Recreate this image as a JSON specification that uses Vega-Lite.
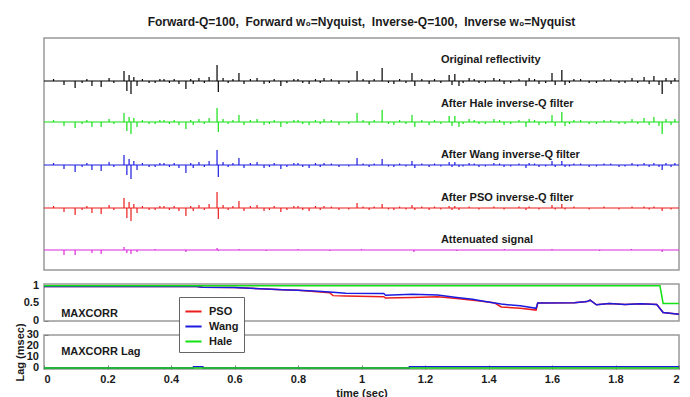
{
"$schema": "https://vega.github.io/schema/vega-lite/v6.json",
"background": "white",
"padding": {"left": 13, "top": 15, "right": 10, "bottom": 4},
"title": {"text": "Forward-Q=100,\u00a0 Forward w₀=Nyquist,\u00a0 Inverse-Q=100,\u00a0 Inverse w₀=Nyquist", "font": "Liberation Sans", "fontSize": 12, "fontWeight": "bold", "color": "#1a1a1a", "anchor": "middle", "frame": "group", "offset": 8.5},
"config": {
 "view": {"stroke": "#999999", "strokeWidth": 1.5},
 "axis": {"labelFont": "Liberation Sans", "labelFontWeight": "bold", "labelFontSize": 11, "labelColor": "#1a1a1a", "titleFont": "Liberation Sans", "titleFontWeight": "bold", "titleFontSize": 11, "titleColor": "#1a1a1a", "grid": false, "domain": false, "tickColor": "#808080", "tickSize": -4, "labelPadding": 5},
 "text": {"font": "Liberation Sans", "fontWeight": "bold", "fontSize": 11, "color": "#1a1a1a"},
 "legend": {"orient": "none", "legendX": 135, "legendY": 259, "direction": "vertical", "title": null, "symbolType": "stroke", "symbolStrokeWidth": 2, "symbolSize": 260, "labelFont": "Liberation Sans", "labelFontWeight": "bold", "labelFontSize": 11, "labelColor": "#1a1a1a", "fillColor": "white", "strokeColor": "#666666", "padding": 5, "rowPadding": -6, "labelOffset": 6, "labelExpr": "datum.label + '\u00a0\u00a0\u00a0\u00a0'"}
},
"datasets": {
"tr": [
{"s":"k","t":0.030,"a":2},{"s":"k","t":0.063,"a":-4},{"s":"k","t":0.098,"a":-7},{"s":"k","t":0.120,"a":-2},{"s":"k","t":0.135,"a":2},{"s":"k","t":0.151,"a":-5},{"s":"k","t":0.180,"a":-6},{"s":"k","t":0.205,"a":3},{"s":"k","t":0.220,"a":-2},{"s":"k","t":0.252,"a":10},{"s":"k","t":0.261,"a":-10},{"s":"k","t":0.268,"a":6},{"s":"k","t":0.274,"a":-13},{"s":"k","t":0.283,"a":4},{"s":"k","t":0.293,"a":-5},{"s":"k","t":0.310,"a":2},{"s":"k","t":0.331,"a":-2},{"s":"k","t":0.350,"a":-2},{"s":"k","t":0.365,"a":2},{"s":"k","t":0.378,"a":2},{"s":"k","t":0.395,"a":-2},{"s":"k","t":0.410,"a":2},{"s":"k","t":0.425,"a":-3},{"s":"k","t":0.447,"a":-8},{"s":"k","t":0.462,"a":2},{"s":"k","t":0.470,"a":-3},{"s":"k","t":0.488,"a":3},{"s":"k","t":0.505,"a":-2},{"s":"k","t":0.520,"a":4},{"s":"k","t":0.545,"a":16},{"s":"k","t":0.549,"a":-11},{"s":"k","t":0.564,"a":3},{"s":"k","t":0.580,"a":-2},{"s":"k","t":0.595,"a":2},{"s":"k","t":0.614,"a":8},{"s":"k","t":0.630,"a":-3},{"s":"k","t":0.650,"a":2},{"s":"k","t":0.671,"a":3},{"s":"k","t":0.693,"a":-3},{"s":"k","t":0.710,"a":-2},{"s":"k","t":0.725,"a":2},{"s":"k","t":0.746,"a":-5},{"s":"k","t":0.765,"a":-2},{"s":"k","t":0.787,"a":2},{"s":"k","t":0.800,"a":2},{"s":"k","t":0.815,"a":-2},{"s":"k","t":0.835,"a":-3},{"s":"k","t":0.855,"a":2},{"s":"k","t":0.870,"a":-2},{"s":"k","t":0.882,"a":3},{"s":"k","t":0.905,"a":2},{"s":"k","t":0.929,"a":-3},{"s":"k","t":0.960,"a":-2},{"s":"k","t":0.986,"a":10},{"s":"k","t":1.005,"a":2},{"s":"k","t":1.024,"a":-3},{"s":"k","t":1.040,"a":2},{"s":"k","t":1.065,"a":13},{"s":"k","t":1.085,"a":-2},{"s":"k","t":1.102,"a":-3},{"s":"k","t":1.120,"a":2},{"s":"k","t":1.140,"a":-2},{"s":"k","t":1.159,"a":8},{"s":"k","t":1.168,"a":-5},{"s":"k","t":1.190,"a":2},{"s":"k","t":1.213,"a":-3},{"s":"k","t":1.230,"a":2},{"s":"k","t":1.250,"a":-2},{"s":"k","t":1.276,"a":6},{"s":"k","t":1.285,"a":-4},{"s":"k","t":1.294,"a":7},{"s":"k","t":1.307,"a":-5},{"s":"k","t":1.320,"a":-2},{"s":"k","t":1.339,"a":3},{"s":"k","t":1.355,"a":2},{"s":"k","t":1.370,"a":-2},{"s":"k","t":1.390,"a":-2},{"s":"k","t":1.417,"a":3},{"s":"k","t":1.435,"a":2},{"s":"k","t":1.449,"a":-3},{"s":"k","t":1.470,"a":-2},{"s":"k","t":1.496,"a":2},{"s":"k","t":1.518,"a":-5},{"s":"k","t":1.528,"a":3},{"s":"k","t":1.545,"a":2},{"s":"k","t":1.559,"a":-3},{"s":"k","t":1.580,"a":-2},{"s":"k","t":1.600,"a":8},{"s":"k","t":1.610,"a":-4},{"s":"k","t":1.631,"a":11},{"s":"k","t":1.641,"a":-4},{"s":"k","t":1.655,"a":-2},{"s":"k","t":1.669,"a":2},{"s":"k","t":1.690,"a":2},{"s":"k","t":1.717,"a":-2},{"s":"k","t":1.740,"a":-2},{"s":"k","t":1.764,"a":2},{"s":"k","t":1.785,"a":2},{"s":"k","t":1.811,"a":-2},{"s":"k","t":1.830,"a":-2},{"s":"k","t":1.852,"a":3},{"s":"k","t":1.870,"a":-2},{"s":"k","t":1.890,"a":4},{"s":"k","t":1.906,"a":-3},{"s":"k","t":1.921,"a":5},{"s":"k","t":1.937,"a":-4},{"s":"k","t":1.947,"a":-13},{"s":"k","t":1.959,"a":3},{"s":"k","t":1.975,"a":-3},{"s":"k","t":1.987,"a":3},
{"s":"g","t":0.030,"a":2},{"s":"g","t":0.063,"a":-4},{"s":"g","t":0.098,"a":-6},{"s":"g","t":0.120,"a":-2},{"s":"g","t":0.135,"a":2},{"s":"g","t":0.151,"a":-5},{"s":"g","t":0.180,"a":-5},{"s":"g","t":0.205,"a":3},{"s":"g","t":0.220,"a":-2},{"s":"g","t":0.252,"a":9},{"s":"g","t":0.261,"a":-9},{"s":"g","t":0.268,"a":5},{"s":"g","t":0.274,"a":-12},{"s":"g","t":0.283,"a":4},{"s":"g","t":0.293,"a":-5},{"s":"g","t":0.310,"a":2},{"s":"g","t":0.331,"a":-2},{"s":"g","t":0.350,"a":-2},{"s":"g","t":0.365,"a":2},{"s":"g","t":0.378,"a":2},{"s":"g","t":0.395,"a":-2},{"s":"g","t":0.410,"a":2},{"s":"g","t":0.425,"a":-3},{"s":"g","t":0.447,"a":-7},{"s":"g","t":0.462,"a":2},{"s":"g","t":0.470,"a":-3},{"s":"g","t":0.488,"a":3},{"s":"g","t":0.505,"a":-2},{"s":"g","t":0.520,"a":4},{"s":"g","t":0.545,"a":14},{"s":"g","t":0.549,"a":-10},{"s":"g","t":0.564,"a":3},{"s":"g","t":0.580,"a":-2},{"s":"g","t":0.595,"a":2},{"s":"g","t":0.614,"a":7},{"s":"g","t":0.630,"a":-3},{"s":"g","t":0.650,"a":2},{"s":"g","t":0.671,"a":3},{"s":"g","t":0.693,"a":-3},{"s":"g","t":0.710,"a":-2},{"s":"g","t":0.725,"a":2},{"s":"g","t":0.746,"a":-5},{"s":"g","t":0.765,"a":-2},{"s":"g","t":0.787,"a":2},{"s":"g","t":0.800,"a":2},{"s":"g","t":0.815,"a":-2},{"s":"g","t":0.835,"a":-3},{"s":"g","t":0.855,"a":2},{"s":"g","t":0.870,"a":-2},{"s":"g","t":0.882,"a":3},{"s":"g","t":0.905,"a":2},{"s":"g","t":0.929,"a":-3},{"s":"g","t":0.960,"a":-2},{"s":"g","t":0.986,"a":9},{"s":"g","t":1.005,"a":2},{"s":"g","t":1.024,"a":-3},{"s":"g","t":1.040,"a":2},{"s":"g","t":1.065,"a":12},{"s":"g","t":1.085,"a":-2},{"s":"g","t":1.102,"a":-3},{"s":"g","t":1.120,"a":2},{"s":"g","t":1.140,"a":-2},{"s":"g","t":1.159,"a":7},{"s":"g","t":1.168,"a":-5},{"s":"g","t":1.190,"a":2},{"s":"g","t":1.213,"a":-3},{"s":"g","t":1.230,"a":2},{"s":"g","t":1.250,"a":-2},{"s":"g","t":1.276,"a":6},{"s":"g","t":1.285,"a":-4},{"s":"g","t":1.294,"a":6},{"s":"g","t":1.307,"a":-5},{"s":"g","t":1.320,"a":-2},{"s":"g","t":1.339,"a":3},{"s":"g","t":1.355,"a":2},{"s":"g","t":1.370,"a":-2},{"s":"g","t":1.390,"a":-2},{"s":"g","t":1.417,"a":3},{"s":"g","t":1.435,"a":2},{"s":"g","t":1.449,"a":-3},{"s":"g","t":1.470,"a":-2},{"s":"g","t":1.496,"a":2},{"s":"g","t":1.518,"a":-5},{"s":"g","t":1.528,"a":3},{"s":"g","t":1.545,"a":2},{"s":"g","t":1.559,"a":-3},{"s":"g","t":1.580,"a":-2},{"s":"g","t":1.600,"a":7},{"s":"g","t":1.610,"a":-4},{"s":"g","t":1.631,"a":10},{"s":"g","t":1.641,"a":-4},{"s":"g","t":1.655,"a":-2},{"s":"g","t":1.669,"a":2},{"s":"g","t":1.690,"a":2},{"s":"g","t":1.717,"a":-2},{"s":"g","t":1.740,"a":-2},{"s":"g","t":1.764,"a":2},{"s":"g","t":1.785,"a":2},{"s":"g","t":1.811,"a":-2},{"s":"g","t":1.830,"a":-2},{"s":"g","t":1.852,"a":3},{"s":"g","t":1.870,"a":-2},{"s":"g","t":1.890,"a":4},{"s":"g","t":1.906,"a":-3},{"s":"g","t":1.921,"a":5},{"s":"g","t":1.937,"a":-4},{"s":"g","t":1.947,"a":-12},{"s":"g","t":1.959,"a":3},{"s":"g","t":1.975,"a":-3},{"s":"g","t":1.987,"a":3},
{"s":"b","t":0.030,"a":2},{"s":"b","t":0.063,"a":-4},{"s":"b","t":0.098,"a":-7},{"s":"b","t":0.120,"a":-2},{"s":"b","t":0.135,"a":2},{"s":"b","t":0.151,"a":-5},{"s":"b","t":0.180,"a":-6},{"s":"b","t":0.205,"a":3},{"s":"b","t":0.220,"a":-2},{"s":"b","t":0.252,"a":10},{"s":"b","t":0.261,"a":-10},{"s":"b","t":0.268,"a":6},{"s":"b","t":0.274,"a":-14},{"s":"b","t":0.283,"a":4},{"s":"b","t":0.293,"a":-5},{"s":"b","t":0.310,"a":2},{"s":"b","t":0.331,"a":-2},{"s":"b","t":0.350,"a":-2},{"s":"b","t":0.365,"a":2},{"s":"b","t":0.378,"a":2},{"s":"b","t":0.395,"a":-2},{"s":"b","t":0.410,"a":2},{"s":"b","t":0.425,"a":-3},{"s":"b","t":0.447,"a":-8},{"s":"b","t":0.462,"a":2},{"s":"b","t":0.470,"a":-3},{"s":"b","t":0.488,"a":3},{"s":"b","t":0.505,"a":-2},{"s":"b","t":0.520,"a":4},{"s":"b","t":0.545,"a":15},{"s":"b","t":0.549,"a":-12},{"s":"b","t":0.564,"a":3},{"s":"b","t":0.580,"a":-2},{"s":"b","t":0.595,"a":2},{"s":"b","t":0.614,"a":7},{"s":"b","t":0.630,"a":-3},{"s":"b","t":0.650,"a":2},{"s":"b","t":0.671,"a":3},{"s":"b","t":0.693,"a":-3},{"s":"b","t":0.710,"a":-2},{"s":"b","t":0.725,"a":2},{"s":"b","t":0.746,"a":-4},{"s":"b","t":0.765,"a":-2},{"s":"b","t":0.787,"a":2},{"s":"b","t":0.800,"a":2},{"s":"b","t":0.815,"a":-2},{"s":"b","t":0.835,"a":-3},{"s":"b","t":0.855,"a":2},{"s":"b","t":0.870,"a":-2},{"s":"b","t":0.882,"a":2},{"s":"b","t":0.905,"a":1.5},{"s":"b","t":0.929,"a":-2},{"s":"b","t":0.960,"a":-1.5},{"s":"b","t":0.986,"a":7},{"s":"b","t":1.005,"a":1.5},{"s":"b","t":1.024,"a":-2},{"s":"b","t":1.040,"a":1.5},{"s":"b","t":1.065,"a":6},{"s":"b","t":1.085,"a":-1.5},{"s":"b","t":1.102,"a":-2},{"s":"b","t":1.120,"a":1.5},{"s":"b","t":1.140,"a":-1.5},{"s":"b","t":1.159,"a":4},{"s":"b","t":1.168,"a":-3},{"s":"b","t":1.190,"a":1.5},{"s":"b","t":1.213,"a":-2},{"s":"b","t":1.230,"a":1.5},{"s":"b","t":1.250,"a":-1.5},{"s":"b","t":1.276,"a":3},{"s":"b","t":1.285,"a":-2},{"s":"b","t":1.294,"a":3},{"s":"b","t":1.307,"a":-2},{"s":"b","t":1.320,"a":-1.5},{"s":"b","t":1.339,"a":2},{"s":"b","t":1.355,"a":1.5},{"s":"b","t":1.370,"a":-2},{"s":"b","t":1.390,"a":-1.5},{"s":"b","t":1.417,"a":2},{"s":"b","t":1.435,"a":1.5},{"s":"b","t":1.449,"a":-2},{"s":"b","t":1.470,"a":-1.5},{"s":"b","t":1.496,"a":1.5},{"s":"b","t":1.518,"a":-3},{"s":"b","t":1.528,"a":2},{"s":"b","t":1.545,"a":1.5},{"s":"b","t":1.559,"a":-2},{"s":"b","t":1.580,"a":-1.5},{"s":"b","t":1.600,"a":4},{"s":"b","t":1.610,"a":-2},{"s":"b","t":1.631,"a":4},{"s":"b","t":1.641,"a":-2},{"s":"b","t":1.655,"a":-1.5},{"s":"b","t":1.669,"a":1.5},{"s":"b","t":1.690,"a":1.5},{"s":"b","t":1.717,"a":-2},{"s":"b","t":1.740,"a":-1.5},{"s":"b","t":1.764,"a":1.5},{"s":"b","t":1.785,"a":1.5},{"s":"b","t":1.811,"a":-2},{"s":"b","t":1.830,"a":-1.5},{"s":"b","t":1.852,"a":2},{"s":"b","t":1.870,"a":-1.5},{"s":"b","t":1.890,"a":2},{"s":"b","t":1.906,"a":-2},{"s":"b","t":1.921,"a":2},{"s":"b","t":1.937,"a":-2},{"s":"b","t":1.947,"a":-5},{"s":"b","t":1.959,"a":2},{"s":"b","t":1.975,"a":-2},{"s":"b","t":1.987,"a":2},
{"s":"r","t":0.030,"a":2},{"s":"r","t":0.063,"a":-4},{"s":"r","t":0.098,"a":-7},{"s":"r","t":0.120,"a":-2},{"s":"r","t":0.135,"a":2},{"s":"r","t":0.151,"a":-5},{"s":"r","t":0.180,"a":-6},{"s":"r","t":0.205,"a":3},{"s":"r","t":0.220,"a":-2},{"s":"r","t":0.252,"a":10},{"s":"r","t":0.261,"a":-10},{"s":"r","t":0.268,"a":6},{"s":"r","t":0.274,"a":-13},{"s":"r","t":0.283,"a":4},{"s":"r","t":0.293,"a":-5},{"s":"r","t":0.310,"a":2},{"s":"r","t":0.331,"a":-2},{"s":"r","t":0.350,"a":-2},{"s":"r","t":0.365,"a":2},{"s":"r","t":0.378,"a":2},{"s":"r","t":0.395,"a":-2},{"s":"r","t":0.410,"a":2},{"s":"r","t":0.425,"a":-3},{"s":"r","t":0.447,"a":-8},{"s":"r","t":0.462,"a":2},{"s":"r","t":0.470,"a":-3},{"s":"r","t":0.488,"a":3},{"s":"r","t":0.505,"a":-2},{"s":"r","t":0.520,"a":4},{"s":"r","t":0.545,"a":16},{"s":"r","t":0.549,"a":-11},{"s":"r","t":0.564,"a":3},{"s":"r","t":0.580,"a":-2},{"s":"r","t":0.595,"a":2},{"s":"r","t":0.614,"a":7},{"s":"r","t":0.630,"a":-3},{"s":"r","t":0.650,"a":2},{"s":"r","t":0.671,"a":3},{"s":"r","t":0.693,"a":-3},{"s":"r","t":0.710,"a":-2},{"s":"r","t":0.725,"a":2},{"s":"r","t":0.746,"a":-4},{"s":"r","t":0.765,"a":-2},{"s":"r","t":0.787,"a":2},{"s":"r","t":0.800,"a":2},{"s":"r","t":0.815,"a":-2},{"s":"r","t":0.835,"a":-3},{"s":"r","t":0.855,"a":2},{"s":"r","t":0.870,"a":-2},{"s":"r","t":0.882,"a":2},{"s":"r","t":0.905,"a":1.5},{"s":"r","t":0.929,"a":-2},{"s":"r","t":0.960,"a":-1.5},{"s":"r","t":0.986,"a":5},{"s":"r","t":1.005,"a":1.5},{"s":"r","t":1.024,"a":-2},{"s":"r","t":1.040,"a":1.5},{"s":"r","t":1.065,"a":4},{"s":"r","t":1.085,"a":-1.5},{"s":"r","t":1.102,"a":-2},{"s":"r","t":1.120,"a":1.5},{"s":"r","t":1.140,"a":-1.5},{"s":"r","t":1.159,"a":3},{"s":"r","t":1.168,"a":-2},{"s":"r","t":1.190,"a":1.5},{"s":"r","t":1.213,"a":-2},{"s":"r","t":1.230,"a":1.5},{"s":"r","t":1.250,"a":-1.5},{"s":"r","t":1.276,"a":2},{"s":"r","t":1.285,"a":-2},{"s":"r","t":1.294,"a":2},{"s":"r","t":1.307,"a":-2},{"s":"r","t":1.339,"a":1.5},{"s":"r","t":1.370,"a":-1.5},{"s":"r","t":1.417,"a":1.5},{"s":"r","t":1.449,"a":-1.5},{"s":"r","t":1.496,"a":1.5},{"s":"r","t":1.518,"a":-2},{"s":"r","t":1.528,"a":1.5},{"s":"r","t":1.559,"a":-1.5},{"s":"r","t":1.600,"a":3},{"s":"r","t":1.610,"a":-1.5},{"s":"r","t":1.631,"a":4},{"s":"r","t":1.641,"a":-1.5},{"s":"r","t":1.669,"a":1.5},{"s":"r","t":1.717,"a":-1.5},{"s":"r","t":1.764,"a":1.5},{"s":"r","t":1.811,"a":-1.5},{"s":"r","t":1.852,"a":1.5},{"s":"r","t":1.890,"a":1.5},{"s":"r","t":1.906,"a":-1.5},{"s":"r","t":1.921,"a":1.5},{"s":"r","t":1.947,"a":-3},{"s":"r","t":1.975,"a":-1.5},
{"s":"m","t":0.063,"a":-5},{"s":"m","t":0.098,"a":-5},{"s":"m","t":0.151,"a":-3},{"s":"m","t":0.180,"a":-4},{"s":"m","t":0.252,"a":3},{"s":"m","t":0.261,"a":-3},{"s":"m","t":0.274,"a":-4},{"s":"m","t":0.293,"a":-2},{"s":"m","t":0.350,"a":1},{"s":"m","t":0.447,"a":-2},{"s":"m","t":0.545,"a":2},{"s":"m","t":0.549,"a":-1},{"s":"m","t":0.614,"a":1},{"s":"m","t":0.700,"a":-1},{"s":"m","t":0.800,"a":1},{"s":"m","t":0.900,"a":-1},{"s":"m","t":1.000,"a":1},{"s":"m","t":1.165,"a":-2},{"s":"m","t":1.300,"a":-1},{"s":"m","t":1.450,"a":1},{"s":"m","t":1.600,"a":1},{"s":"m","t":1.750,"a":-1},{"s":"m","t":1.850,"a":1},{"s":"m","t":1.947,"a":-2}
],
"mc": [
{"k":"PSO","t":0,"v":0.98},{"k":"PSO","t":0.48,"v":0.98},{"k":"PSO","t":0.5,"v":0.96},{"k":"PSO","t":0.6,"v":0.95},{"k":"PSO","t":0.65,"v":0.93},{"k":"PSO","t":0.7,"v":0.91},{"k":"PSO","t":0.75,"v":0.89},{"k":"PSO","t":0.8,"v":0.87},{"k":"PSO","t":0.85,"v":0.84},{"k":"PSO","t":0.9,"v":0.8},{"k":"PSO","t":0.91,"v":0.72},{"k":"PSO","t":0.95,"v":0.71},{"k":"PSO","t":1.07,"v":0.69},{"k":"PSO","t":1.076,"v":0.65},{"k":"PSO","t":1.16,"v":0.67},{"k":"PSO","t":1.24,"v":0.69},{"k":"PSO","t":1.3,"v":0.64},{"k":"PSO","t":1.38,"v":0.56},{"k":"PSO","t":1.42,"v":0.51},{"k":"PSO","t":1.44,"v":0.4},{"k":"PSO","t":1.5,"v":0.36},{"k":"PSO","t":1.55,"v":0.31},{"k":"PSO","t":1.555,"v":0.51},{"k":"PSO","t":1.67,"v":0.52},{"k":"PSO","t":1.71,"v":0.55},{"k":"PSO","t":1.72,"v":0.59},{"k":"PSO","t":1.74,"v":0.46},{"k":"PSO","t":1.78,"v":0.5},{"k":"PSO","t":1.83,"v":0.47},{"k":"PSO","t":1.88,"v":0.49},{"k":"PSO","t":1.93,"v":0.47},{"k":"PSO","t":1.95,"v":0.24},{"k":"PSO","t":2,"v":0.19},
{"k":"Wang","t":0,"v":0.98},{"k":"Wang","t":0.48,"v":0.98},{"k":"Wang","t":0.5,"v":0.96},{"k":"Wang","t":0.6,"v":0.95},{"k":"Wang","t":0.65,"v":0.93},{"k":"Wang","t":0.7,"v":0.91},{"k":"Wang","t":0.75,"v":0.89},{"k":"Wang","t":0.8,"v":0.87},{"k":"Wang","t":0.85,"v":0.85},{"k":"Wang","t":0.9,"v":0.82},{"k":"Wang","t":0.95,"v":0.79},{"k":"Wang","t":1.07,"v":0.78},{"k":"Wang","t":1.076,"v":0.73},{"k":"Wang","t":1.16,"v":0.76},{"k":"Wang","t":1.24,"v":0.74},{"k":"Wang","t":1.3,"v":0.67},{"k":"Wang","t":1.35,"v":0.62},{"k":"Wang","t":1.38,"v":0.57},{"k":"Wang","t":1.44,"v":0.48},{"k":"Wang","t":1.5,"v":0.43},{"k":"Wang","t":1.55,"v":0.36},{"k":"Wang","t":1.555,"v":0.51},{"k":"Wang","t":1.67,"v":0.52},{"k":"Wang","t":1.71,"v":0.55},{"k":"Wang","t":1.72,"v":0.59},{"k":"Wang","t":1.74,"v":0.46},{"k":"Wang","t":1.78,"v":0.5},{"k":"Wang","t":1.83,"v":0.47},{"k":"Wang","t":1.88,"v":0.49},{"k":"Wang","t":1.93,"v":0.47},{"k":"Wang","t":1.95,"v":0.24},{"k":"Wang","t":2,"v":0.19},
{"k":"Hale","t":0,"v":1},{"k":"Hale","t":1.94,"v":1},{"k":"Hale","t":1.95,"v":0.5},{"k":"Hale","t":2,"v":0.5}
],
"lg": [
{"k":"PSO","t":0,"v":0},{"k":"PSO","t":0.47,"v":0},{"k":"PSO","t":0.471,"v":1.2},{"k":"PSO","t":0.5,"v":1.2},{"k":"PSO","t":0.501,"v":0},{"k":"PSO","t":1.15,"v":0},{"k":"PSO","t":1.151,"v":1.2},{"k":"PSO","t":2,"v":1.2},
{"k":"Wang","t":0,"v":0},{"k":"Wang","t":0.47,"v":0},{"k":"Wang","t":0.471,"v":1.2},{"k":"Wang","t":0.5,"v":1.2},{"k":"Wang","t":0.501,"v":0},{"k":"Wang","t":1.15,"v":0},{"k":"Wang","t":1.151,"v":1.2},{"k":"Wang","t":2,"v":1.2},
{"k":"Hale","t":0,"v":0},{"k":"Hale","t":2,"v":0}
]
},
"bounds": "flush",
"spacing": 14,
"vconcat": [
{
 "width": 635, "height": 232,
 "resolve": {"scale": {"y": "independent"}},
 "layer": [
  {"layer": [
   {"data": {"name": "tr"}, "transform": [{"filter": "datum.s === 'k'"}], "mark": {"type": "rule", "color": "#000000", "strokeWidth": 1.2}, "encoding": {"x": {"field": "t", "type": "quantitative", "scale": {"domain": [0, 2], "nice": false}, "axis": null}, "y": {"field": "a", "type": "quantitative", "scale": {"domain": [-189, 43], "nice": false, "zero": false}, "axis": null}, "y2": {"datum": 0}}},
   {"data": {"values": [{}]}, "mark": {"type": "rule", "color": "#000000", "strokeWidth": 1.2}, "encoding": {"y": {"datum": 0}}},
   {"data": {"values": [{}]}, "mark": {"type": "text", "align": "left", "baseline": "middle"}, "encoding": {"x": {"datum": 1.25}, "y": {"datum": 21}, "text": {"value": "Original reflectivity"}}}
  ]},
  {"layer": [
   {"data": {"name": "tr"}, "transform": [{"filter": "datum.s === 'g'"}], "mark": {"type": "rule", "color": "#14e014", "strokeWidth": 1.2}, "encoding": {"x": {"field": "t", "type": "quantitative", "scale": {"domain": [0, 2], "nice": false}, "axis": null}, "y": {"field": "a", "type": "quantitative", "scale": {"domain": [-148, 84], "nice": false, "zero": false}, "axis": null}, "y2": {"datum": 0}}},
   {"data": {"values": [{}]}, "mark": {"type": "rule", "color": "#14e014", "strokeWidth": 1.2}, "encoding": {"y": {"datum": 0}}},
   {"data": {"values": [{}]}, "mark": {"type": "text", "align": "left", "baseline": "middle"}, "encoding": {"x": {"datum": 1.25}, "y": {"datum": 18}, "text": {"value": "After Hale inverse-Q filter"}}}
  ]},
  {"layer": [
   {"data": {"name": "tr"}, "transform": [{"filter": "datum.s === 'b'"}], "mark": {"type": "rule", "color": "#1c1ce0", "strokeWidth": 1.2}, "encoding": {"x": {"field": "t", "type": "quantitative", "scale": {"domain": [0, 2], "nice": false}, "axis": null}, "y": {"field": "a", "type": "quantitative", "scale": {"domain": [-105, 127], "nice": false, "zero": false}, "axis": null}, "y2": {"datum": 0}}},
   {"data": {"values": [{}]}, "mark": {"type": "rule", "color": "#1c1ce0", "strokeWidth": 1.2}, "encoding": {"y": {"datum": 0}}},
   {"data": {"values": [{}]}, "mark": {"type": "text", "align": "left", "baseline": "middle"}, "encoding": {"x": {"datum": 1.25}, "y": {"datum": 10}, "text": {"value": "After Wang inverse-Q filter"}}}
  ]},
  {"layer": [
   {"data": {"name": "tr"}, "transform": [{"filter": "datum.s === 'r'"}], "mark": {"type": "rule", "color": "#ec1c1c", "strokeWidth": 1.2}, "encoding": {"x": {"field": "t", "type": "quantitative", "scale": {"domain": [0, 2], "nice": false}, "axis": null}, "y": {"field": "a", "type": "quantitative", "scale": {"domain": [-62, 170], "nice": false, "zero": false}, "axis": null}, "y2": {"datum": 0}}},
   {"data": {"values": [{}]}, "mark": {"type": "rule", "color": "#ec1c1c", "strokeWidth": 1.2}, "encoding": {"y": {"datum": 0}}},
   {"data": {"values": [{}]}, "mark": {"type": "text", "align": "left", "baseline": "middle"}, "encoding": {"x": {"datum": 1.25}, "y": {"datum": 10}, "text": {"value": "After PSO inverse-Q filter"}}}
  ]},
  {"layer": [
   {"data": {"name": "tr"}, "transform": [{"filter": "datum.s === 'm'"}], "mark": {"type": "rule", "color": "#dc28dc", "strokeWidth": 1.2}, "encoding": {"x": {"field": "t", "type": "quantitative", "scale": {"domain": [0, 2], "nice": false}, "axis": null}, "y": {"field": "a", "type": "quantitative", "scale": {"domain": [-20, 212], "nice": false, "zero": false}, "axis": null}, "y2": {"datum": 0}}},
   {"data": {"values": [{}]}, "mark": {"type": "rule", "color": "#dc28dc", "strokeWidth": 1.2}, "encoding": {"y": {"datum": 0}}},
   {"data": {"values": [{}]}, "mark": {"type": "text", "align": "left", "baseline": "middle"}, "encoding": {"x": {"datum": 1.25}, "y": {"datum": 10}, "text": {"value": "Attenuated signal"}}}
  ]}
 ]
},
{
 "width": 635, "height": 37,
 "layer": [
  {"data": {"name": "mc"}, "mark": {"type": "line", "strokeWidth": 1.5}, "encoding": {"x": {"field": "t", "type": "quantitative", "scale": {"domain": [0, 2], "nice": false}, "axis": null}, "y": {"field": "v", "type": "quantitative", "scale": {"domain": [0, 1.05], "nice": false}, "axis": {"values": [0, 0.5, 1], "labels": false, "title": null}}, "color": {"field": "k", "type": "nominal", "sort": ["PSO", "Wang", "Hale"], "scale": {"domain": ["PSO", "Wang", "Hale"], "range": ["#ec1c1c", "#1c1ce0", "#14e014"]}}}},
  {"data": {"values": [{}]}, "mark": {"type": "text", "align": "left", "baseline": "middle"}, "encoding": {"x": {"datum": 0.054}, "y": {"datum": 0.2}, "text": {"value": "MAXCORR"}}},
  {"data": {"values": [{}]}, "mark": {"type": "text", "align": "right", "baseline": "middle", "dx": -5}, "encoding": {"x": {"datum": 0}, "y": {"datum": 1}, "text": {"value": "1"}}},
  {"data": {"values": [{}]}, "mark": {"type": "text", "align": "right", "baseline": "middle", "dx": -5}, "encoding": {"x": {"datum": 0}, "y": {"datum": 0.5}, "text": {"value": "0.5"}}},
  {"data": {"values": [{}]}, "mark": {"type": "text", "align": "right", "baseline": "middle", "dx": -5}, "encoding": {"x": {"datum": 0}, "y": {"datum": 0}, "text": {"value": "0"}}}
 ]
},
{
 "width": 635, "height": 34,
 "layer": [
  {"data": {"name": "lg"}, "mark": {"type": "line", "strokeWidth": 1.5}, "encoding": {"x": {"field": "t", "type": "quantitative", "scale": {"domain": [0, 2], "nice": false}, "axis": {"values": [0, 0.2, 0.4, 0.6, 0.8, 1, 1.2, 1.4, 1.6, 1.8, 2], "format": "~g", "title": "time (sec)", "labelPadding": 8, "titlePadding": 3}}, "y": {"field": "v", "type": "quantitative", "scale": {"domain": [-0.8, 30], "nice": false, "zero": false}, "axis": {"values": [0, 10, 20, 30], "labels": false, "title": "Lag (msec)", "titlePadding": 18}}, "color": {"field": "k", "type": "nominal", "sort": ["PSO", "Wang", "Hale"], "scale": {"domain": ["PSO", "Wang", "Hale"], "range": ["#ec1c1c", "#1c1ce0", "#14e014"]}}}},
  {"data": {"values": [{}]}, "mark": {"type": "text", "align": "left", "baseline": "middle"}, "encoding": {"x": {"datum": 0.054}, "y": {"datum": 14.6}, "text": {"value": "MAXCORR Lag"}}},
  {"data": {"values": [{}]}, "mark": {"type": "text", "align": "right", "baseline": "middle", "dx": -5}, "encoding": {"x": {"datum": 0}, "y": {"datum": 30}, "text": {"value": "30"}}},
  {"data": {"values": [{}]}, "mark": {"type": "text", "align": "right", "baseline": "middle", "dx": -5}, "encoding": {"x": {"datum": 0}, "y": {"datum": 20}, "text": {"value": "20"}}},
  {"data": {"values": [{}]}, "mark": {"type": "text", "align": "right", "baseline": "middle", "dx": -5}, "encoding": {"x": {"datum": 0}, "y": {"datum": 10}, "text": {"value": "10"}}},
  {"data": {"values": [{}]}, "mark": {"type": "text", "align": "right", "baseline": "middle", "dx": -5}, "encoding": {"x": {"datum": 0}, "y": {"datum": 0}, "text": {"value": "0"}}}
 ]
}
]
}
